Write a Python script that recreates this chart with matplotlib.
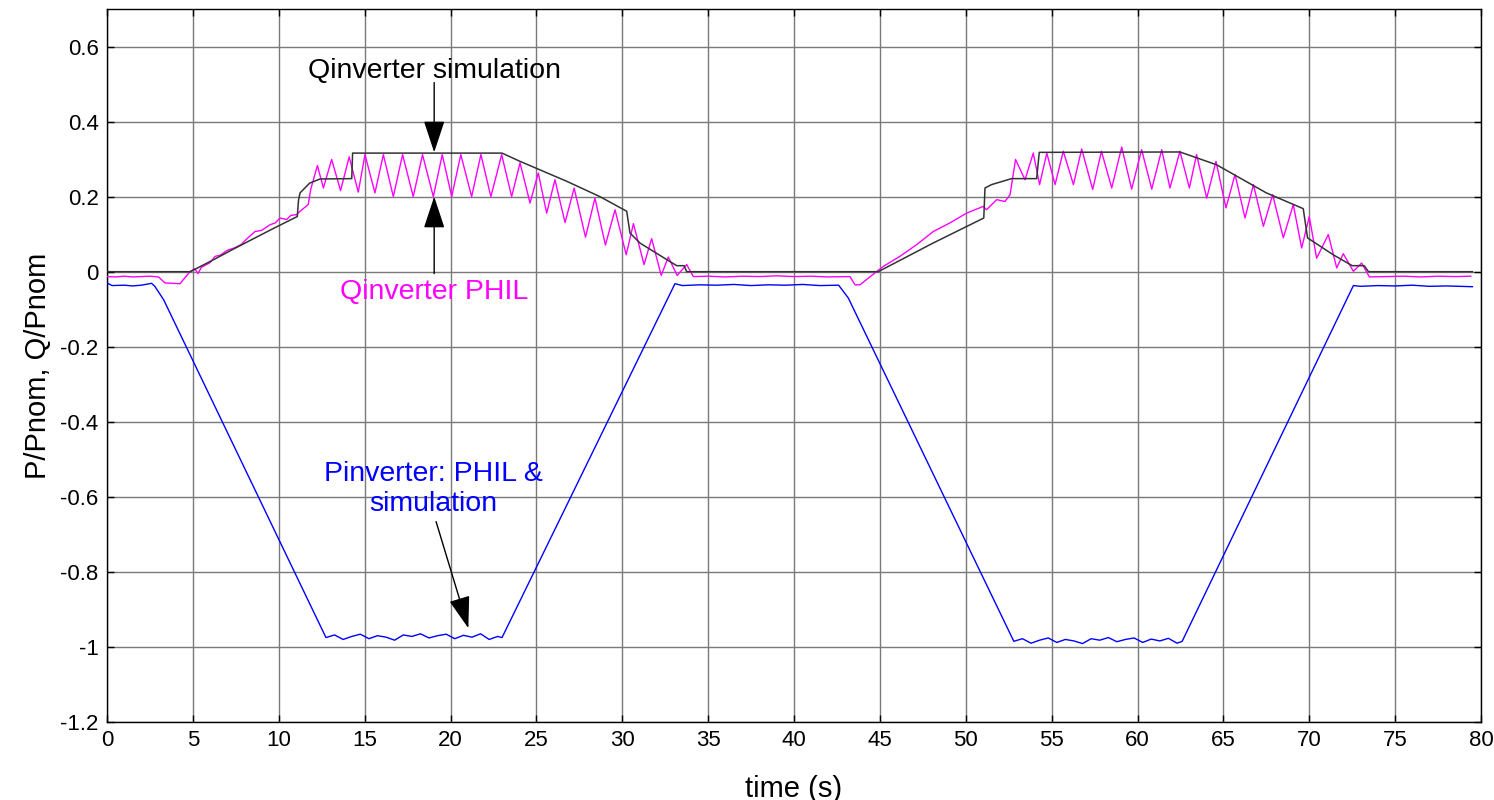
import matplotlib
matplotlib.use("Agg")
import matplotlib.pyplot as plt

plt.rcParams['font.family'] = ['Liberation Sans', 'DejaVu Sans']
plt.rcParams['axes.unicode_minus'] = False

# ---------------- data ----------------
# Qinverter simulation (black)
q_sim_t = [0.0, 4.85, 6.29, 7.35, 8.62, 9.68, 11.08, 11.15, 11.24, 11.8, 12.4, 14.25, 14.3,
           23.0, 24.05, 26.76, 28.7, 30.26, 30.45, 31.04, 32.6, 33.17, 33.6, 33.75,
           44.9, 46.5, 48.0, 49.5, 51.05, 51.12, 51.5, 52.67, 54.13, 54.28,
           62.47, 64.6, 67.5, 69.65, 69.9, 71.4, 72.5, 73.2, 73.45, 79.5]
q_sim_v = [0.0, 0.0, 0.034, 0.06, 0.09, 0.115, 0.147, 0.19, 0.21, 0.236, 0.247, 0.248, 0.316,
           0.316, 0.294, 0.241, 0.2, 0.161, 0.103, 0.076, 0.032, 0.016, 0.016, 0.0,
           0.0, 0.038, 0.074, 0.108, 0.143, 0.223, 0.232, 0.248, 0.248, 0.318,
           0.319, 0.285, 0.21, 0.168, 0.09, 0.045, 0.016, 0.016, 0.0, 0.0]

# Qinverter PHIL (magenta)
q_phil_t = [0.0, 0.5, 1.0, 1.5, 2.0, 2.5, 3.0, 3.38, 4.25, 4.83,
            5.1, 5.3, 5.5, 6.0, 6.3, 6.6, 7.0, 7.4, 7.8, 8.2, 8.62, 9.0, 9.49, 9.8, 10.07, 10.46, 10.7,
            11.04, 11.24, 11.72, 11.86, 12.25, 12.6, 13.08, 13.6, 14.1, 14.63, 15.02, 15.6, 16.09,
            16.67, 17.21, 17.83, 18.37, 19.0, 19.52, 20.07, 20.6, 21.23, 21.77, 22.35, 22.98,
            23.56, 24.05, 24.63, 25.11, 25.6, 26.08, 26.67, 27.2, 27.86, 28.41, 29.02, 29.58,
            30.23, 30.65, 31.27, 31.71, 32.27, 32.68, 33.2, 33.75, 34.14,
            35.0, 36.0, 37.0, 38.0, 39.0, 40.0, 41.0, 42.0, 43.26, 43.55, 43.84, 44.8,
            45.2, 46.17, 47.14, 48.11, 49.08, 50.05, 51.02, 51.21, 51.8, 52.28, 52.58,
            52.9, 53.45, 53.93, 54.3, 54.72, 55.2, 55.68, 56.27, 56.75, 57.39, 57.9, 58.5,
            59.08, 59.66, 60.24, 60.83, 61.41, 61.89, 62.47, 63.02, 63.44, 64.03, 64.57,
            65.15, 65.68, 66.26, 66.75, 67.33, 67.87, 68.49, 69.07, 69.56, 70.0, 70.43,
            71.11, 71.6, 71.98, 72.57, 73.05, 73.5,
            74.5, 75.5, 76.5, 77.5, 78.5, 79.4]
q_phil_v = [-0.013, -0.014, -0.012, -0.014, -0.013, -0.012, -0.014, -0.03, -0.032, 0.0,
            0.008, -0.005, 0.012, 0.024, 0.041, 0.044, 0.057, 0.063, 0.072, 0.09, 0.107, 0.11, 0.125, 0.13, 0.143, 0.139, 0.15,
            0.152, 0.161, 0.179, 0.219, 0.283, 0.223, 0.299, 0.216, 0.306, 0.212, 0.312, 0.21, 0.312,
            0.2, 0.312, 0.2, 0.312, 0.2, 0.312, 0.2, 0.312, 0.2, 0.312, 0.2, 0.312,
            0.2, 0.29, 0.183, 0.263, 0.156, 0.245, 0.131, 0.223, 0.092, 0.196, 0.071, 0.165,
            0.045, 0.128, 0.019, 0.088, -0.01, 0.039, -0.01, 0.019, -0.013,
            -0.012, -0.014, -0.012, -0.013, -0.011, -0.013, -0.012, -0.014, -0.013, -0.035, -0.035, 0.0,
            0.014, 0.041, 0.072, 0.107, 0.13, 0.156, 0.174, 0.165, 0.192, 0.187, 0.205,
            0.299, 0.245, 0.316, 0.232, 0.316, 0.232, 0.321, 0.232, 0.327, 0.219, 0.321, 0.223,
            0.332, 0.22, 0.325, 0.22, 0.325, 0.223, 0.321, 0.223, 0.312, 0.196, 0.294,
            0.17, 0.259, 0.143, 0.232, 0.121, 0.205, 0.09, 0.179, 0.063, 0.147, 0.036,
            0.099, 0.01, 0.048, 0.001, 0.023, -0.014,
            -0.013, -0.012, -0.014, -0.012, -0.013, -0.012]

# Pinverter PHIL & simulation (blue)
p_t = [0.0, 0.3, 1.0, 1.5, 2.0, 2.6, 2.8, 3.3, 12.75,
       13.25, 13.75, 14.25, 14.75, 15.25, 15.75, 16.25, 16.75, 17.25, 17.75, 18.25,
       18.75, 19.25, 19.75, 20.25, 20.75, 21.25, 21.75, 22.25, 22.75, 23.0,
       33.07, 33.5, 34.5, 35.5, 36.5, 37.5, 38.5, 39.5, 40.5, 41.5, 42.6, 43.16,
       52.8, 53.3, 53.8, 54.3, 54.8, 55.3, 55.8, 56.3, 56.8, 57.3, 57.8, 58.3, 58.8,
       59.3, 59.8, 60.3, 60.8, 61.3, 61.8, 62.3, 62.6,
       72.57, 73.0, 74.0, 75.0, 76.0, 77.0, 78.0, 79.5]
p_v = [-0.03, -0.037, -0.036, -0.038, -0.036, -0.031, -0.04, -0.075, -0.975,
       -0.968, -0.98, -0.972, -0.966, -0.978, -0.97, -0.974, -0.982, -0.968, -0.972, -0.965,
       -0.976, -0.97, -0.966, -0.978, -0.969, -0.974, -0.965, -0.98, -0.972, -0.975,
       -0.032, -0.037, -0.035, -0.036, -0.034, -0.037, -0.035, -0.036, -0.034, -0.037, -0.036, -0.07,
       -0.985, -0.978, -0.99, -0.982, -0.976, -0.988, -0.98, -0.984, -0.991, -0.978, -0.982, -0.975,
       -0.986, -0.98, -0.976, -0.988, -0.979, -0.984, -0.977, -0.99, -0.985,
       -0.037, -0.039, -0.037, -0.038, -0.036, -0.039, -0.038, -0.04]

x_ticks = list(range(0, 81, 5))
y_ticks = [-1.2, -1.0, -0.8, -0.6, -0.4, -0.2, 0.0, 0.2, 0.4, 0.6]
y_tick_labels = ['-1.2', '-1', '-0.8', '-0.6', '-0.4', '-0.2', '0', '0.2', '0.4', '0.6']

# ---------------- figure ----------------
fig = plt.figure(figsize=(14.94, 8.0), dpi=100)
ax = fig.add_axes([107/1494, 78/800, (1481-107)/1494, (722-9)/800])

ax.plot(p_t, p_v, color='#0000ff', lw=1.0, zorder=3)
ax.plot(q_phil_t, q_phil_v, color='#ff00ff', lw=1.0, zorder=3)
ax.plot(q_sim_t, q_sim_v, color='#333333', lw=1.1, zorder=4)

ax.set_xlim(0, 80)
ax.set_ylim(-1.2, 0.7)
ax.set_xticks(x_ticks)
ax.set_xticklabels([str(v) for v in x_ticks])
ax.set_yticks(y_ticks)
ax.set_yticklabels(y_tick_labels)
ax.grid(True, color='#7a7a7a', lw=1.0, ls='-')
ax.set_axisbelow(True)
ax.tick_params(direction='in', length=5, width=1, top=True, right=True,
               labelsize=16, pad=6, colors='black')
for s in ax.spines.values():
    s.set_linewidth(1.0)
    s.set_color('black')

ax.set_xlabel('time (s)', fontsize=21, labelpad=17)
ax.set_ylabel('P/Pnom, Q/Pnom', fontsize=21, labelpad=6)

arrow_kw = dict(arrowstyle='-|>,head_length=1.0,head_width=0.33', color='black',
                lw=1.0, shrinkA=0, shrinkB=0, mutation_scale=20)

ax.text(19.05, 0.535, 'Qinverter simulation', fontsize=20.5, color='black',
        ha='center', va='center')
ax.annotate('', xy=(19.05, 0.318), xytext=(19.05, 0.504), arrowprops=arrow_kw)

ax.text(19.05, -0.055, 'Qinverter PHIL', fontsize=20.5, color='#ff00ff',
        ha='center', va='center')
ax.annotate('', xy=(19.05, 0.2), xytext=(19.05, -0.005), arrowprops=arrow_kw)

ax.text(19.0, -0.579, 'Pinverter: PHIL &\nsimulation', fontsize=20.5, color='#0000ff',
        ha='center', va='center', linespacing=1.2)
ax.annotate('', xy=(21.04, -0.95), xytext=(19.16, -0.666), arrowprops=arrow_kw)

fig.savefig('out.png', dpi=100)
